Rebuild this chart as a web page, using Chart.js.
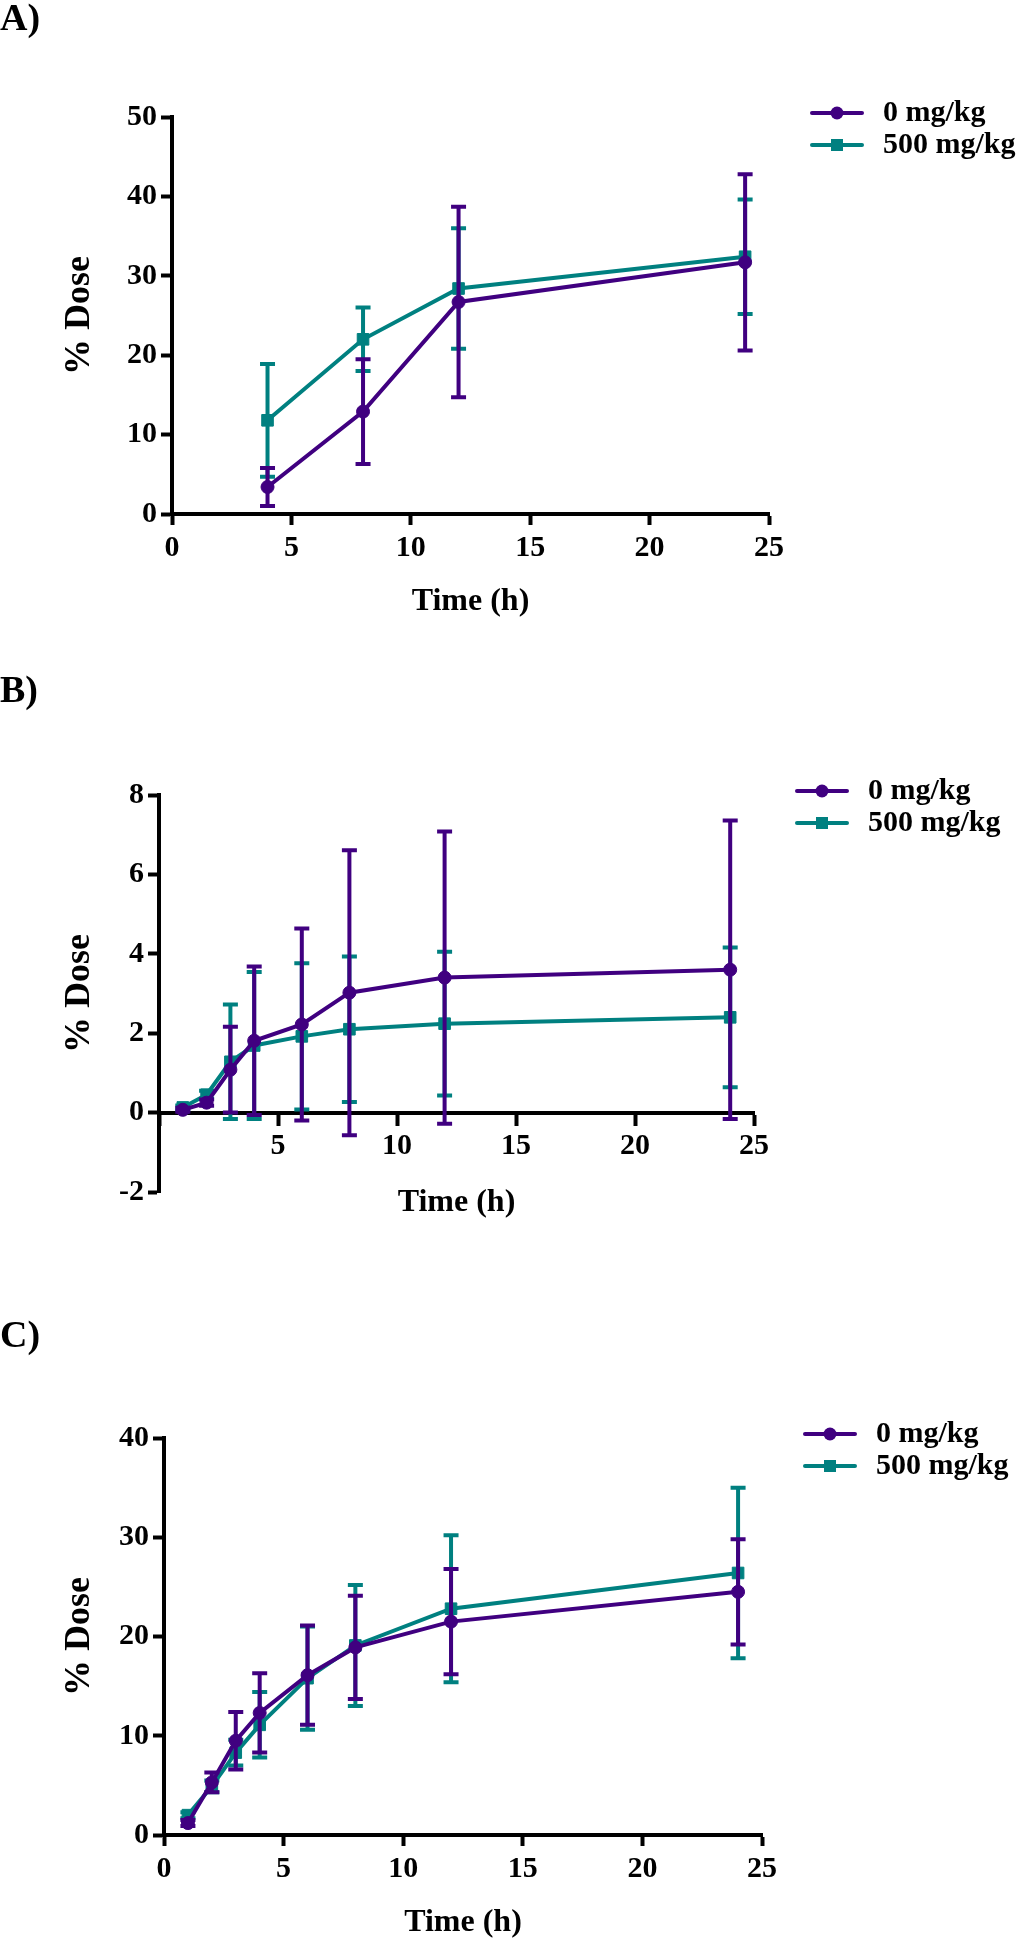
<!DOCTYPE html>
<html>
<head>
<meta charset="utf-8">
<script src="https://cdn.jsdelivr.net/npm/chart.js@4.4.1/dist/chart.umd.min.js"></script>
<style>
    html, body { margin: 0; padding: 0; background: #fff; }
    body { position: relative; width: 1020px; height: 1943px; overflow: hidden; }
    canvas { position: absolute; left: 0; }
</style>
</head>
<body>
<canvas id="chartA" width="1020" height="672" style="top:0px"></canvas>
<canvas id="chartB" width="1020" height="645" style="top:672px"></canvas>
<canvas id="chartC" width="1020" height="626" style="top:1317px"></canvas>
<script>
// Données (moyenne et barre d'erreur)
const seriesLabels = ['0 mg/kg', '500 mg/kg'];

const timeA = [4, 8, 12, 24];
const dose0A = [3.4, 12.9, 26.7, 31.7];
const err0A = [2.4, 6.6, 12.0, 11.1];
const dose500A = [11.8, 22.0, 28.4, 32.4];
const err500A = [7.1, 4.0, 7.6, 7.2];

const timeB = [1, 2, 3, 4, 6, 8, 12, 24];
const dose0B = [0.07, 0.25, 1.08, 1.81, 2.22, 3.02, 3.40, 3.60];
const err0B = [0.05, 0.08, 1.08, 1.87, 2.42, 3.59, 3.68, 3.76];
const dose500B = [0.13, 0.45, 1.28, 1.69, 1.92, 2.10, 2.24, 2.40];
const err500B = [0.05, 0.10, 1.44, 1.85, 1.84, 1.83, 1.81, 1.76];

const timeC = [1, 2, 3, 4, 6, 8, 12, 24];
const dose0C = [1.2, 5.3, 9.5, 12.3, 16.1, 18.9, 21.5, 24.5];
const err0C = [0.3, 1.0, 2.9, 4.0, 5.0, 5.2, 5.3, 5.3];
const dose500C = [2.0, 4.9, 8.3, 11.1, 15.8, 19.1, 22.8, 26.4];
const err500C = [0.3, 0.6, 1.3, 3.3, 5.2, 6.1, 7.4, 8.6];

const xTicks = [0, 5, 10, 15, 20, 25];

document.addEventListener('DOMContentLoaded', function () {

    const PURPLE = '#400080';
    const TEAL = '#008080';
    const FAMILY = "'Times New Roman', 'Liberation Serif', serif";

    Chart.defaults.font.family = FAMILY;
    Chart.defaults.color = '#000';

    // Barres d'erreur dessinées juste avant chaque série
    const errorBarsPlugin = {
        id: 'errorBars',
        beforeDatasetDraw(chart, args) {
            const ds = chart.data.datasets[args.index];
            if (!ds.errors) return;
            const xScale = chart.scales.x;
            const yScale = chart.scales.y;
            const ctx = chart.ctx;
            ctx.save();
            ctx.strokeStyle = ds.borderColor;
            ctx.lineWidth = 4;
            ds.data.forEach((pt, i) => {
                const e = ds.errors[i];
                const px = xScale.getPixelForValue(pt.x);
                const yTop = yScale.getPixelForValue(pt.y + e);
                const yBot = yScale.getPixelForValue(pt.y - e);
                ctx.beginPath();
                ctx.moveTo(px, yTop);
                ctx.lineTo(px, yBot);
                ctx.moveTo(px - 7.5, yTop);
                ctx.lineTo(px + 7.5, yTop);
                ctx.moveTo(px - 7.5, yBot);
                ctx.lineTo(px + 7.5, yBot);
                ctx.stroke();
            });
            ctx.restore();
        }
    };

    // Légende placée à droite de l'axe X, au niveau du haut de l'axe Y
    const placeLegendPlugin = {
        id: 'placeLegend',
        afterLayout(chart) {
            const lg = chart.legend;
            const area = chart.chartArea;
            if (!lg) return;
            const w = lg.width, h = lg.height;
            lg.left = area.right + 35;
            lg.right = lg.left + w;
            lg.top = area.top - 21;
            lg.bottom = lg.top + h;
        }
    };

    function legendIcon(color, style) {
        const c = document.createElement('canvas');
        c.width = 54;
        c.height = 18;
        const ctx = c.getContext('2d');
        ctx.strokeStyle = color;
        ctx.fillStyle = color;
        ctx.lineWidth = 4;
        ctx.lineCap = 'round';
        ctx.beginPath();
        ctx.moveTo(2, 9);
        ctx.lineTo(52, 9);
        ctx.stroke();
        if (style === 'circle') {
            ctx.beginPath();
            ctx.arc(27, 9, 6.5, 0, Math.PI * 2);
            ctx.fill();
        } else {
            ctx.fillRect(21, 3, 12, 12);
        }
        return c;
    }

    const icons = [legendIcon(PURPLE, 'circle'), legendIcon(TEAL, 'rect')];

    const axisGrid = {
        display: true,
        drawOnChartArea: false,
        drawTicks: true,
        tickLength: 11,
        tickWidth: 4,
        tickColor: '#000',
        color: '#000'
    };
    const axisBorder = { display: true, color: '#000', width: 4 };
    const tickFont = { family: FAMILY, size: 30, weight: 'bold' };

    function makeSeries(time, values, errors, idx) {
        const color = idx === 0 ? PURPLE : TEAL;
        return {
            label: seriesLabels[idx],
            data: time.map((t, i) => ({ x: t, y: values[i] })),
            errors: errors,
            borderColor: color,
            backgroundColor: color,
            borderWidth: 4,
            tension: 0,
            pointStyle: idx === 0 ? 'circle' : 'rect',
            pointRadius: idx === 0 ? 6.5 : 8.2,
            pointBorderWidth: 1,
            pointBackgroundColor: color,
            pointBorderColor: color
        };
    }

    function panelConfig(p) {
        return {
            type: 'line',
            data: {
                datasets: [
                    makeSeries(p.time, p.dose0, p.err0, 0),
                    makeSeries(p.time, p.dose500, p.err500, 1)
                ]
            },
            options: {
                responsive: false,
                animation: false,
                events: [],
                layout: { padding: { left: 0, top: 0, right: p.padRight, bottom: p.padBottom } },
                plugins: {
                    title: {
                        display: true,
                        text: p.title,
                        align: 'start',
                        color: '#000',
                        font: { family: FAMILY, size: 38, weight: 'bold', lineHeight: 1 },
                        padding: { top: 1, bottom: p.titleGap }
                    },
                    legend: {
                        position: 'chartArea',
                        align: 'start',
                        labels: {
                            usePointStyle: true,
                            pointStyleWidth: 62,
                            padding: 2,
                            color: '#000',
                            font: { family: FAMILY, size: 30, weight: 'bold' },
                            generateLabels: (chart) => chart.data.datasets.map((ds, i) => ({
                                text: ds.label,
                                pointStyle: icons[i],
                                fillStyle: ds.borderColor,
                                strokeStyle: ds.borderColor,
                                fontColor: '#000',
                                lineWidth: 0,
                                hidden: false,
                                datasetIndex: i
                            }))
                        }
                    },
                    tooltip: { enabled: false }
                },
                scales: {
                    x: {
                        type: 'linear',
                        min: xTicks[0],
                        max: xTicks[xTicks.length - 1],
                        position: p.xAtZero ? { y: 0 } : 'bottom',
                        ticks: {
                            stepSize: 5,
                            padding: 5,
                            font: tickFont,
                            color: '#000',
                            callback: (v) => (p.xAtZero && v === 0) ? '' : v
                        },
                        grid: axisGrid,
                        border: axisBorder,
                        title: {
                            display: true,
                            text: 'Time (h)',
                            color: '#000',
                            font: { family: FAMILY, size: 32, weight: 'bold', lineHeight: 1.2 },
                            padding: 0
                        },
                        afterFit: (scale) => { scale.height = p.xHeight; }
                    },
                    y: {
                        type: 'linear',
                        min: p.yMin,
                        max: p.yMax,
                        ticks: {
                            stepSize: p.yStep,
                            padding: 4,
                            font: tickFont,
                            color: '#000'
                        },
                        grid: axisGrid,
                        border: axisBorder,
                        title: {
                            display: true,
                            text: '% Dose',
                            color: '#000',
                            font: { family: FAMILY, size: 36, weight: 'bold', lineHeight: 1.2 },
                            padding: { top: 58, bottom: 0 }
                        },
                        afterFit: (scale) => { scale.width = p.yWidth; }
                    }
                }
            },
            plugins: [errorBarsPlugin, placeLegendPlugin]
        };
    }

    function createChart(elementId, chartConfig) {
        const element = document.getElementById(elementId);
        if (!element) {
            console.warn(`Element with ID ${elementId} not found`);
            return null;
        }
        return new Chart(element.getContext('2d'), chartConfig);
    }

    createChart('chartA', panelConfig({
        title: 'A)', time: timeA,
        dose0: dose0A, err0: err0A, dose500: dose500A, err500: err500A,
        yMin: 0, yMax: 50, yStep: 10,
        yWidth: 172, xHeight: 107.2, titleGap: 78,
        padRight: 251, padBottom: 50.8, xAtZero: false
    }));

    createChart('chartB', panelConfig({
        title: 'B)', time: timeB,
        dose0: dose0B, err0: err0B, dose500: dose500B, err500: err500B,
        yMin: -2, yMax: 8, yStep: 2,
        yWidth: 159, xHeight: 109.2, titleGap: 84,
        padRight: 266, padBottom: 125, xAtZero: true
    }));

    createChart('chartC', panelConfig({
        title: 'C)', time: timeC,
        dose0: dose0C, err0: err0C, dose500: dose500C, err500: err500C,
        yMin: 0, yMax: 40, yStep: 10,
        yWidth: 164, xHeight: 107.2, titleGap: 82,
        padRight: 258, padBottom: 0.8, xAtZero: false
    }));
});
</script>
</body>
</html>
